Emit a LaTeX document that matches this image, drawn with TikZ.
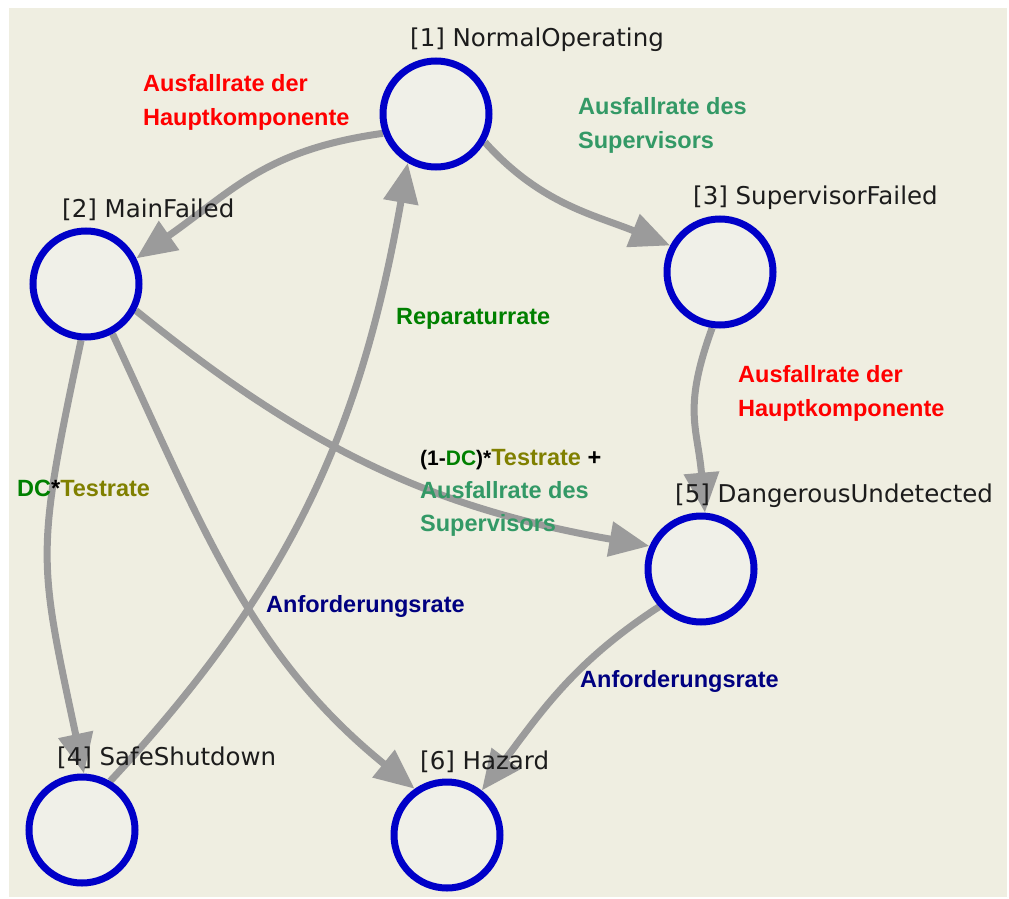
\documentclass[tikz,border=0pt]{standalone}
\usepackage{fontspec}
\setmainfont{Liberation Sans}
\newfontfamily\statefont{DejaVu Sans}
\usetikzlibrary{arrows.meta}
\definecolor{bgbeige}{RGB}{239,238,225}
\definecolor{ringfill}{RGB}{240,240,232}
\definecolor{ringblue}{RGB}{0,0,200}
\definecolor{edgegray}{RGB}{155,155,155}
\definecolor{lblred}{RGB}{255,0,0}
\definecolor{lblteal}{RGB}{51,153,102}
\definecolor{lblgreen}{RGB}{0,128,0}
\definecolor{lblolive}{RGB}{128,128,0}
\definecolor{lblnavy}{RGB}{0,0,128}
\definecolor{lbltext}{RGB}{28,28,28}
\pgfdeclarelayer{bglayer}
\pgfdeclarelayer{edgelayer}
\pgfsetlayers{bglayer,edgelayer,main}
\begin{document}
\begin{tikzpicture}[x=1pt,y=1pt,
  state/.style={circle,draw=ringblue,line width=7pt,fill=ringfill,minimum size=106pt,inner sep=0pt},
  statelabel/.style={anchor=base west,inner sep=0pt,text=lbltext,font=\statefont\fontsize{24.5}{29}\selectfont},
  rate/.style={anchor=base west,inner sep=0pt,font=\bfseries\fontsize{23.5}{28}\selectfont},
  trans/.style={draw=edgegray,line width=7pt,-{Triangle[length=40pt,width=34pt]}}
]
\useasboundingbox (0,0) rectangle (1009,-899);
\begin{pgfonlayer}{bglayer}
  \fill[white] (0,0) rectangle (1009,-899);
  \fill[bgbeige] (9,-8) rectangle (1007,-897);
\end{pgfonlayer}

% states
\node[state] (s1) at (436,-114) {};
\node[state] (s2) at (86,-284) {};
\node[state] (s3) at (720,-272) {};
\node[state] (s4) at (82,-830) {};
\node[state] (s5) at (701,-569) {};
\node[state] (s6) at (447,-835) {};

% state labels
\node[statelabel] (l1) at (410,-47) {[1] NormalOperating};
\node[statelabel] (l2) at (62,-217) {[2] MainFailed};
\node[statelabel] (l3) at (693,-204) {[3] SupervisorFailed};
\node[statelabel] (l4) at (57,-765) {[4] SafeShutdown};
\node[statelabel] (l5) at (675,-502) {[5] DangerousUndetected};
\node[statelabel] (l6) at (420,-769) {[6] Hazard};

% transitions
\begin{pgfonlayer}{edgelayer}
  \draw[trans] (s1.200) to[out=188,in=35,looseness=1.1] (s2.27);
  \draw[trans] (s1.330) to[out=312,in=158] (s3.152);
  \draw[trans] (s4.60) to[out=47,in=260] (s1.240);
  \draw[trans] (s2.265) to[out=258,in=102,looseness=1.3] (s4.88);
  \draw[trans] (s2.298) to[out=295,in=141] (s6.125);
  \draw[trans] (s2.332) to[out=321,in=170] (s5.156);
  \draw[trans] (s3.262) to[out=250,in=95,looseness=1.2] (s5.86);
  \draw[trans] (s5.222) to[out=213,in=53] (s6.52);
\end{pgfonlayer}

% rate labels
\node[rate,text=lblred] (r1a) at (143,-91) {Ausfallrate der};
\node[rate,text=lblred] (r1b) at (143,-125) {Hauptkomponente};
\node[rate,text=lblteal] (r2a) at (578,-114) {Ausfallrate des};
\node[rate,text=lblteal] (r2b) at (578,-148) {Supervisors};
\node[rate,text=lblgreen] (r3) at (396,-324) {Reparaturrate};
\node[rate,text=lblred] (r4a) at (738,-382) {Ausfallrate der};
\node[rate,text=lblred] (r4b) at (738,-416) {Hauptkomponente};
\node[rate] (r5a) at (420,-465) {{\fontsize{21}{25}\selectfont(1-\textcolor{lblgreen}{DC})*}\textcolor{lblolive}{Testrate} +};
\node[rate,text=lblteal] (r5b) at (420,-498) {Ausfallrate des};
\node[rate,text=lblteal] (r5c) at (420,-531) {Supervisors};
\node[rate] (r6) at (17,-496) {\textcolor{lblgreen}{DC}*\textcolor{lblolive}{Testrate}};
\node[rate,text=lblnavy] (r7) at (266,-612) {Anforderungsrate};
\node[rate,text=lblnavy] (r8) at (580,-687) {Anforderungsrate};
\end{tikzpicture}
\end{document}
